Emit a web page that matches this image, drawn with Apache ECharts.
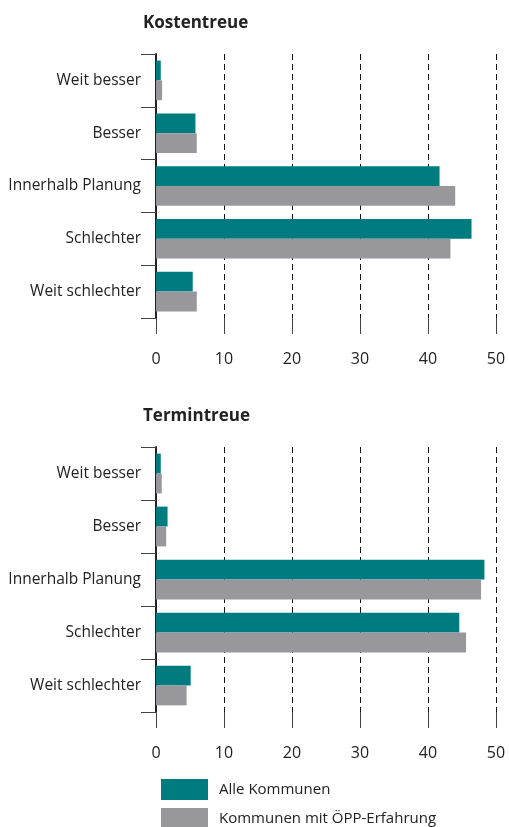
<!DOCTYPE html>
<html><head><meta charset="utf-8">
<script src="https://cdn.jsdelivr.net/npm/echarts@6/dist/echarts.min.js"></script>
<style>html,body{margin:0;padding:0;background:#fff}#c{width:509px;height:827px}</style>
</head><body><div id="c"></div>
<script>
const categories = ['Weit besser','Besser','Innerhalb Planung','Schlechter','Weit schlechter'];
const seriesNames = ['Alle Kommunen','Kommunen mit ÖPP-Erfahrung'];
const kostenAlle = [0.7, 5.8, 41.7, 46.4, 5.4];
const kostenOepp = [0.9, 6.0, 44.0, 43.3, 6.0];
const terminAlle = [0.7, 1.7, 48.3, 44.6, 5.1];
const terminOepp = [0.85, 1.5, 47.8, 45.6, 4.5];
const xTicks = [0, 10, 20, 30, 40, 50];
const titles = ['Kostentreue','Termintreue'];

const FONT = '"Open Sans", "Noto Sans", sans-serif';
const TEAL = '#007b80', GRAY = '#98989c';
const chart = echarts.init(document.getElementById('c'), null, {renderer:'canvas'});

function xAxis(i){
  return {gridIndex:i, type:'value', min:xTicks[0], max:xTicks[xTicks.length-1], interval:10,
    axisLine:{show:false},
    axisTick:{show:true, length:16, lineStyle:{color:'#444', width:1}},
    axisLabel:{margin:33, fontFamily:FONT, fontSize:16, color:'#222'},
    splitLine:{show:true, lineStyle:{color:'#111', type:[6,4], width:1}}};
}
function yAxis(i){
  return {gridIndex:i, type:'category', data:categories, inverse:true,
    axisLine:{show:true, lineStyle:{color:'#222', width:2}},
    axisTick:{show:true, length:15, lineStyle:{color:'#444', width:1}},
    axisLabel:{margin:15, fontFamily:FONT, fontSize:15.5, color:'#222'}};
}
function bar(name, data, color, i){
  return {type:'bar', name:name, data:data, xAxisIndex:i, yAxisIndex:i,
    barGap:'0%', barCategoryGap:'25%', itemStyle:{color:color}, silent:true};
}
function legend(name, top){
  return {left:156, top:top, itemWidth:47, itemHeight:21, icon:'rect', selectedMode:false, data:[name],
    textStyle:{fontFamily:FONT, fontSize:15, color:'#222', padding:[0,0,0,6]}};
}
chart.setOption({
  animation:false,
  title:[
    {text:titles[0], left:138, top:10, textStyle:{fontFamily:FONT, fontSize:17, fontWeight:'bold', color:'#222'}},
    {text:titles[1], left:138, top:403, textStyle:{fontFamily:FONT, fontSize:17, fontWeight:'bold', color:'#222'}}
  ],
  grid:[
    {left:156, right:13, top:54, height:264},
    {left:156, right:13, top:447, height:265}
  ],
  xAxis:[xAxis(0), xAxis(1)],
  yAxis:[yAxis(0), yAxis(1)],
  legend:[legend(seriesNames[0], 774), legend(seriesNames[1], 803)],
  series:[
    bar(seriesNames[0], kostenAlle, TEAL, 0),
    bar(seriesNames[1], kostenOepp, GRAY, 0),
    bar(seriesNames[0], terminAlle, TEAL, 1),
    bar(seriesNames[1], terminOepp, GRAY, 1)
  ]
});
</script></body></html>
